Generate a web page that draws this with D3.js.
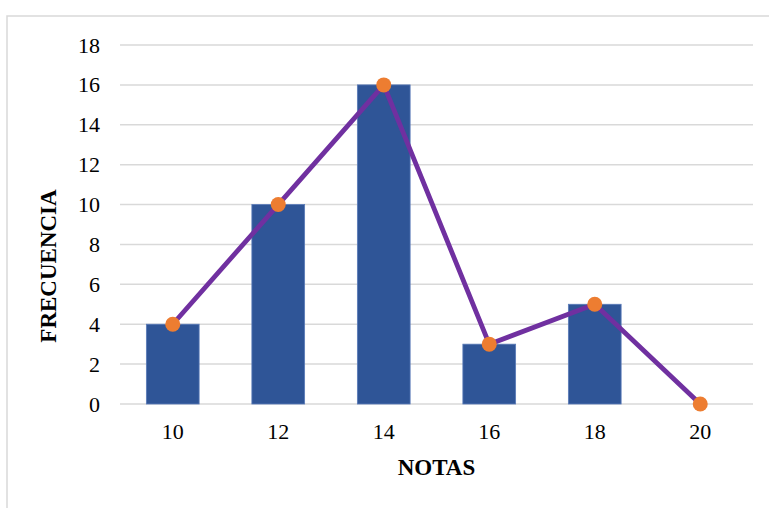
<!DOCTYPE html>
<html>
<head>
<meta charset="utf-8">
<script src="https://cdn.jsdelivr.net/npm/d3@7"></script>
<style>
  body { margin: 0; background: #fff; }
  text { font-family: "Liberation Serif", "Times New Roman", serif; fill: #000; }
</style>
</head>
<body>
<svg id="chart" width="769" height="508"></svg>
<script>
// data
const NOTAS = ["10", "12", "14", "16", "18", "20"];
const FRECUENCIA = [4, 10, 16, 3, 5, 0];
const Y_TICKS = [0, 2, 4, 6, 8, 10, 12, 14, 16, 18];

const W = 769, H = 508;
const PLOT_L = 120, PLOT_R = 753, PLOT_T = 45, PLOT_B = 404;
const TICK_SZ = 22;
const TITLE_SZ = 23;
const BAR_FILL = "#2F5597";
const LINE_COLOR = "#7030A0";
const MARK_FILL = "#ED7D31";
const GRID = "#d9d9d9";

const SVG = d3.select("#chart");

// outer frame (extends past right/bottom edges)
SVG.append("rect")
    .attr("x", 7).attr("y", 16)
    .attr("width", W + 10).attr("height", H + 10)
    .attr("fill", "#fff")
    .attr("stroke", GRID)
    .attr("stroke-width", 1.5);

const SCL_X = d3.scaleBand()
    .domain(NOTAS)
    .range([PLOT_L, PLOT_R])
    .paddingInner(0.5)
    .paddingOuter(0.25);
const SCL_Y = d3.scaleLinear()
    .domain([0, 18])
    .range([PLOT_B, PLOT_T]);

// gridlines
SVG.append("g")
    .selectAll("line")
    .data(Y_TICKS)
    .enter()
    .append("line")
    .attr("x1", PLOT_L).attr("x2", PLOT_R)
    .attr("y1", d => SCL_Y(d)).attr("y2", d => SCL_Y(d))
    .attr("stroke", GRID)
    .attr("stroke-width", 1.5);

// y axis labels
const Y_AXIS = SVG.append("g")
    .attr("transform", `translate(${PLOT_L - 20}, 0)`)
    .call(d3.axisLeft(SCL_Y).tickValues(Y_TICKS).tickSize(0).tickPadding(0));
Y_AXIS.select(".domain").remove();
Y_AXIS.selectAll("text")
    .attr("font-size", TICK_SZ)
    .attr("font-family", "Liberation Serif")
    .attr("fill", "#000");

// x axis labels
const X_AXIS = SVG.append("g")
    .attr("transform", `translate(0, ${PLOT_B})`)
    .call(d3.axisBottom(SCL_X).tickSize(0).tickPadding(0));
X_AXIS.select(".domain").remove();
X_AXIS.selectAll("text")
    .attr("y", 35)
    .attr("dy", null)
    .attr("font-size", TICK_SZ)
    .attr("font-family", "Liberation Serif")
    .attr("fill", "#000");

// bars
SVG.append("g")
    .selectAll("rect")
    .data(FRECUENCIA)
    .enter()
    .append("rect")
    .attr("x", (d, i) => SCL_X(NOTAS[i]))
    .attr("y", d => SCL_Y(d))
    .attr("width", SCL_X.bandwidth())
    .attr("height", d => SCL_Y(0) - SCL_Y(d))
    .attr("fill", BAR_FILL)
    .attr("stroke", "#5a7bb8")
    .attr("stroke-width", 0.8);

// line
const LINE = d3.line()
    .x((d, i) => SCL_X(NOTAS[i]) + SCL_X.bandwidth() / 2)
    .y(d => SCL_Y(d));
SVG.append("path")
    .datum(FRECUENCIA)
    .attr("d", LINE)
    .attr("fill", "none")
    .attr("stroke", LINE_COLOR)
    .attr("stroke-width", 4.8)
    .attr("stroke-linejoin", "round");

// markers
SVG.append("g")
    .selectAll("circle")
    .data(FRECUENCIA)
    .enter()
    .append("circle")
    .attr("cx", (d, i) => SCL_X(NOTAS[i]) + SCL_X.bandwidth() / 2)
    .attr("cy", d => SCL_Y(d))
    .attr("r", 7.5)
    .attr("fill", MARK_FILL);

// axis titles
SVG.append("text")
    .attr("x", (PLOT_L + PLOT_R) / 2)
    .attr("y", 475)
    .attr("text-anchor", "middle")
    .attr("font-size", TITLE_SZ)
    .attr("font-weight", "bold")
    .text("NOTAS");
SVG.append("text")
    .attr("transform", `translate(56, 266) rotate(-90)`)
    .attr("text-anchor", "middle")
    .attr("font-size", TITLE_SZ)
    .attr("font-weight", "bold")
    .text("FRECUENCIA");
</script>
</body>
</html>
